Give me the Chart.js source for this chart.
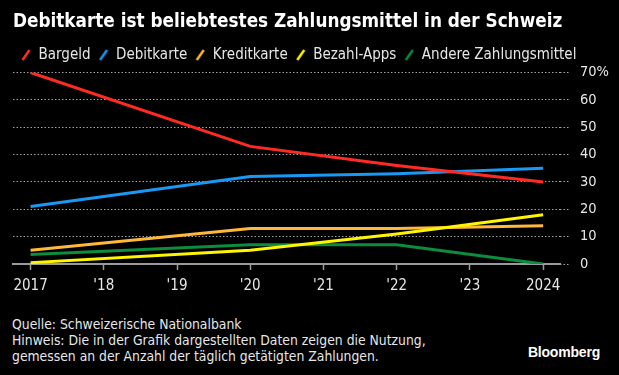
<!DOCTYPE html>
<html>
<head>
<meta charset="utf-8">
<script src="https://cdn.jsdelivr.net/npm/chart.js@4"></script>
<style>
  html, body { margin: 0; padding: 0; background: #000; }
  #wrap { position: relative; width: 619px; height: 375px; background: #000; overflow: hidden; }
  #box { position: absolute; left: 0; top: 0; width: 619px; height: 302px; }
  #foot { position: absolute; left: 12px; top: 316px; color: #e6e6e6;
          font: 13.8px 'Liberation Sans Narrow', 'DejaVu Sans Condensed', sans-serif; line-height: 16px; }
  #logo { position: absolute; right: 19px; top: 344px; color: #fff;
          font: bold 14px 'Liberation Sans', sans-serif; letter-spacing: -0.2px; }
</style>
</head>
<body>
<div id="wrap">
  <div id="box"><canvas id="chart1"></canvas></div>
  <div id="foot">Quelle: Schweizerische Nationalbank<br>Hinweis: Die in der Grafik dargestellten Daten zeigen die Nutzung,<br>gemessen an der Anzahl der täglich getätigten Zahlungen.</div>
  <div id="logo">Bloomberg</div>
</div>
<script>
// survey years and shares in percent
const years = [2017, 2020, 2022, 2024];
const tickYears = [2017, 2018, 2019, 2020, 2021, 2022, 2023, 2024];
const bargeld = [70, 43, 36, 30];
const debitkarte = [21, 32, 33, 35];
const kreditkarte = [5, 13, 13, 14];
const bezahlApps = [0.5, 5, 11, 18];
const andere = [3.5, 7, 7, 0];
const yTicks = [0, 10, 20, 30, 40, 50, 60, 70];

const font = "'Liberation Sans Narrow', 'DejaVu Sans Condensed', sans-serif";

// little slanted stroke used as legend symbol
function slash(color) {
    const c = document.createElement('canvas');
    c.width = 10;
    c.height = 12;
    const g = c.getContext('2d');
    g.strokeStyle = color;
    g.lineWidth = 2.5;
    g.beginPath();
    g.moveTo(1.5, 11);
    g.lineTo(8.5, 1);
    g.stroke();
    return c;
}

function series(label, values, color, order) {
    return {
        label: label,
        data: values.map((v, i) => ({ x: years[i], y: v })),
        borderColor: color,
        backgroundColor: color,
        borderWidth: 3,
        pointRadius: 0,
        tension: 0,
        order: order,
        icon: slash(color)
    };
}

const data = {
    datasets: [
        series('Bargeld', bargeld, '#ff2b23', 0),
        series('Debitkarte', debitkarte, '#1a98f2', 2),
        series('Kreditkarte', kreditkarte, '#ffb93a', 3),
        series('Bezahl-Apps', bezahlApps, '#fff500', 1),
        series('Andere Zahlungsmittel', andere, '#0c8c3e', 4)
    ]
};

const options = {
    responsive: true,
    maintainAspectRatio: false,
    animation: false,
    layout: { padding: { left: 13, right: 0, top: 0, bottom: 0 } },
    plugins: {
        tooltip: { enabled: false },
        title: {
            display: true,
            align: 'start',
            text: 'Debitkarte ist beliebtestes Zahlungsmittel in der Schweiz',
            color: '#ffffff',
            font: { family: font, size: 18.75, weight: 'bold' },
            padding: { top: 11, bottom: 6 }
        },
        legend: {
            position: 'top',
            align: 'start',
            labels: {
                color: '#e6e6e6',
                font: { family: font, size: 15 },
                usePointStyle: true,
                pointStyleWidth: 10,
                padding: 8,
                generateLabels: function (chart) {
                    return chart.data.datasets.map((ds, i) => ({
                        text: ds.label,
                        fontColor: '#e6e6e6',
                        pointStyle: ds.icon,
                        strokeStyle: ds.borderColor,
                        fillStyle: ds.borderColor,
                        lineWidth: 0,
                        hidden: false,
                        datasetIndex: i
                    }));
                }
            }
        }
    },
    scales: {
        x: {
            type: 'linear',
            min: 2016.76,
            max: 2024.23,
            afterBuildTicks: function (scale) {
                scale.ticks = tickYears.map(v => ({ value: v }));
            },
            ticks: {
                color: '#e6e6e6',
                font: { family: font, size: 15 },
                maxRotation: 0,
                autoSkip: false,
                padding: 7,
                callback: function (v) {
                    if (v === 2017 || v === 2024) return String(v);
                    return "'" + String(v).slice(2);
                }
            },
            grid: {
                drawOnChartArea: false,
                drawTicks: true,
                tickLength: 6,
                tickColor: '#9a9a9a',
                tickWidth: 1.5
            },
            border: { display: true, color: '#9a9a9a', width: 2 }
        },
        y: {
            position: 'right',
            min: 0,
            max: 70,
            afterBuildTicks: function (scale) {
                scale.ticks = yTicks.map(v => ({ value: v }));
            },
            ticks: {
                color: '#e6e6e6',
                font: { family: font, size: 14.5 },
                padding: 10,
                callback: function (v) {
                    return v === 70 ? '70%' : String(v);
                }
            },
            grid: {
                color: '#a0a0a0',
                lineWidth: 1,
                tickLength: 10,
                tickBorderDash: [1.5, 2]
            },
            border: { display: false, dash: [1.5, 2] }
        }
    }
};

const ctx = document.getElementById('chart1').getContext('2d');
const myChart = new Chart(ctx, {
    type: 'line',
    data: data,
    options: options
});
</script>
</body>
</html>
